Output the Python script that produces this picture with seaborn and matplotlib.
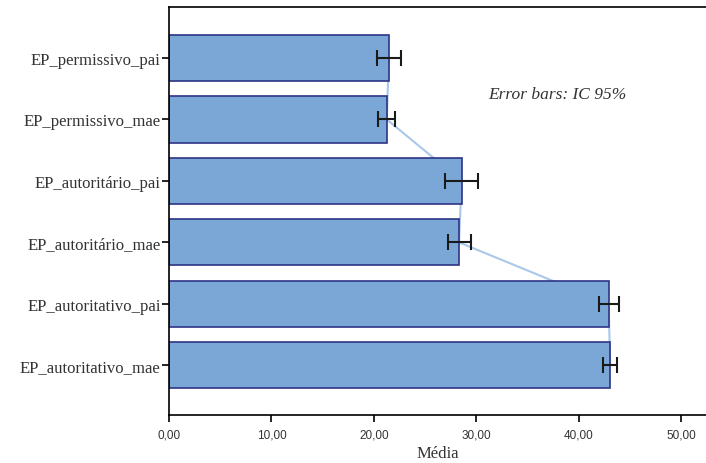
import numpy as np
import pandas as pd
import seaborn as sns
import matplotlib.pyplot as plt

# Data
categorias = ['EP_permissivo_pai', 'EP_permissivo_mae', 'EP_autoritário_pai',
              'EP_autoritário_mae', 'EP_autoritativo_pai', 'EP_autoritativo_mae']
medias = [21.45, 21.25, 28.55, 28.3, 42.9, 43.05]
ic95 = [1.2, 0.82, 1.62, 1.12, 0.98, 0.67]
xticks = [0, 10, 20, 30, 40, 50]
xtick_labels = ['0,00', '10,00', '20,00', '30,00', '40,00', '50,00']

df = pd.DataFrame({'variavel': categorias, 'media': medias, 'ic': ic95})

sns.set_style('white')
plt.rcParams['font.family'] = ['Liberation Serif', 'DejaVu Serif']

fig = plt.figure(figsize=(7.06, 4.64), dpi=100)
ax = fig.add_axes([0.2394, 0.1034, 0.7606, 0.8793])

sns.barplot(data=df, x='media', y='variavel', orient='h', color='#7BA7D7',
            saturation=1, width=0.75, edgecolor='#2E3485', linewidth=1.2,
            errorbar=None, ax=ax, zorder=2)

pos = np.arange(len(categorias))
# interpolation line between bar ends
ax.plot(df['media'], pos, color='#A9C8EA', linewidth=1.5, zorder=1)
ax.errorbar(df['media'], pos, xerr=df['ic'], fmt='none', ecolor='#1a1a1a',
            elinewidth=1.5, capsize=5.5, capthick=1.5, zorder=3)

ax.set_xlim(0, 52.4)
ax.set_ylim(5.81, -0.83)
ax.set_xticks(xticks)
ax.set_xticklabels(xtick_labels, fontfamily='Liberation Sans', fontsize=8.5,
                   color='#333333')
ax.tick_params(axis='x', bottom=True, direction='out', length=5, width=1.2,
               color='black', pad=5)
ax.tick_params(axis='y', left=True, direction='out', length=5, width=1.2,
               color='black', labelsize=12, pad=1)
for lbl in ax.get_yticklabels():
    lbl.set_color('#333333')

ax.set_xlabel('Média', fontsize=12, color='#333333', labelpad=3)
ax.set_ylabel('')

for side in ['left', 'bottom', 'top']:
    ax.spines[side].set_color('black')
    ax.spines[side].set_linewidth(1.2)
ax.spines['right'].set_visible(False)

ax.text(37.85, 0.59, 'Error bars: IC 95%', fontsize=12.5, style='italic',
        color='#333333', ha='center', va='center')

fig.savefig('out.png', dpi=100)
